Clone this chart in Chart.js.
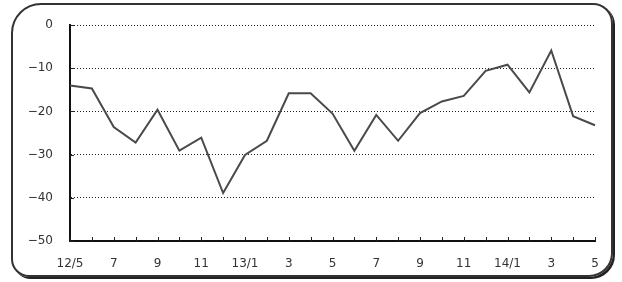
<!DOCTYPE html>
<html>
<head>
<meta charset="utf-8">
<script src="https://cdn.jsdelivr.net/npm/chart.js@4/dist/chart.umd.min.js"></script>
<style>
    html, body { margin: 0; padding: 0; background: #fff; }
    #wrap { position: relative; width: 622px; height: 282px; }
    #frame {
        position: absolute; left: 11px; top: 3px; width: 598px; height: 270px;
        border: 2px solid #333; border-radius: 30px 20px 24px 18px;
        box-shadow: 2px 2px 0 #222;
    }
    canvas { position: absolute; left: 0; top: 0; }
</style>
</head>
<body>
<div id="wrap">
    <div id="frame"></div>
    <canvas id="chart" width="622" height="282"></canvas>
</div>
<script>
// months 2012/5 .. 2014/5
const months = ['12/5', '6', '7', '8', '9', '10', '11', '12', '13/1', '2', '3', '4', '5', '6', '7', '8', '9', '10', '11', '12', '14/1', '2', '3', '4', '5'];
const tickLabels = ['12/5', '7', '9', '11', '13/1', '3', '5', '7', '9', '11', '14/1', '3', '5'];
const values = [-14.0, -14.7, -23.6, -27.2, -19.6, -29.1, -26.1, -38.9, -30.1, -26.8, -15.8, -15.8, -20.5,
                -29.1, -20.8, -26.8, -20.4, -17.7, -16.4, -10.6, -9.2, -15.6, -5.9, -21.1, -23.2];
const yTicks = [0, -10, -20, -30, -40, -50];

document.addEventListener("DOMContentLoaded", () => {
    const ctx = document.getElementById('chart').getContext('2d');

    // small upward tick marks on the x axis, one per month
    const monthTicks = {
        id: 'monthTicks',
        afterDatasetsDraw(chart) {
            const x = chart.scales.x;
            const y = chart.scales.y;
            const base = y.getPixelForValue(-50);
            const c = chart.ctx;
            c.save();
            c.strokeStyle = '#222';
            c.lineWidth = 1;
            c.beginPath();
            months.forEach((m, i) => {
                const px = Math.round(x.getPixelForValue(i)) + 0.5;
                c.moveTo(px, base);
                c.lineTo(px, base - 4);
            });
            // short ticks on the y axis
            yTicks.forEach(v => {
                const py = Math.round(y.getPixelForValue(v)) + 0.5;
                c.moveTo(x.left, py);
                c.lineTo(x.left + 4, py);
            });
            c.stroke();
            c.restore();
        }
    };

    new Chart(ctx, {
        type: 'line',
        data: {
            labels: months,
            datasets: [{
                data: values,
                borderColor: '#4a4a4a',
                borderWidth: 2,
                pointRadius: 0,
                tension: 0,
                fill: false
            }]
        },
        options: {
            responsive: false,
            animation: false,
            layout: { padding: { left: 0, right: 27, top: 25, bottom: 0 } },
            plugins: { legend: { display: false }, tooltip: { enabled: false } },
            scales: {
                x: {
                    offset: false,
                    grid: { display: false },
                    border: { display: true, color: '#111', width: 2 },
                    ticks: {
                        autoSkip: false,
                        maxRotation: 0,
                        padding: 8,
                        color: '#333',
                        font: { family: 'DejaVu Sans', size: 12 },
                        callback: (v, i) => (i % 2 === 0 ? tickLabels[i / 2] : '')
                    },
                    afterFit: s => { s.height = 41; }
                },
                y: {
                    min: -50,
                    max: 0,
                    afterBuildTicks: s => { s.ticks = yTicks.map(v => ({ value: v })); },
                    grid: { color: '#222', lineWidth: 1, drawTicks: false },
                    border: { display: true, color: '#111', width: 2, dash: [1, 2] },
                    ticks: {
                        padding: 17,
                        color: '#333',
                        font: { family: 'DejaVu Sans', size: 12 },
                        callback: v => (v === 0 ? '0' : '\u2212' + Math.abs(v))
                    },
                    afterFit: s => { s.width = 70; }
                }
            }
        },
        plugins: [monthTicks]
    });
});
</script>
</body>
</html>
